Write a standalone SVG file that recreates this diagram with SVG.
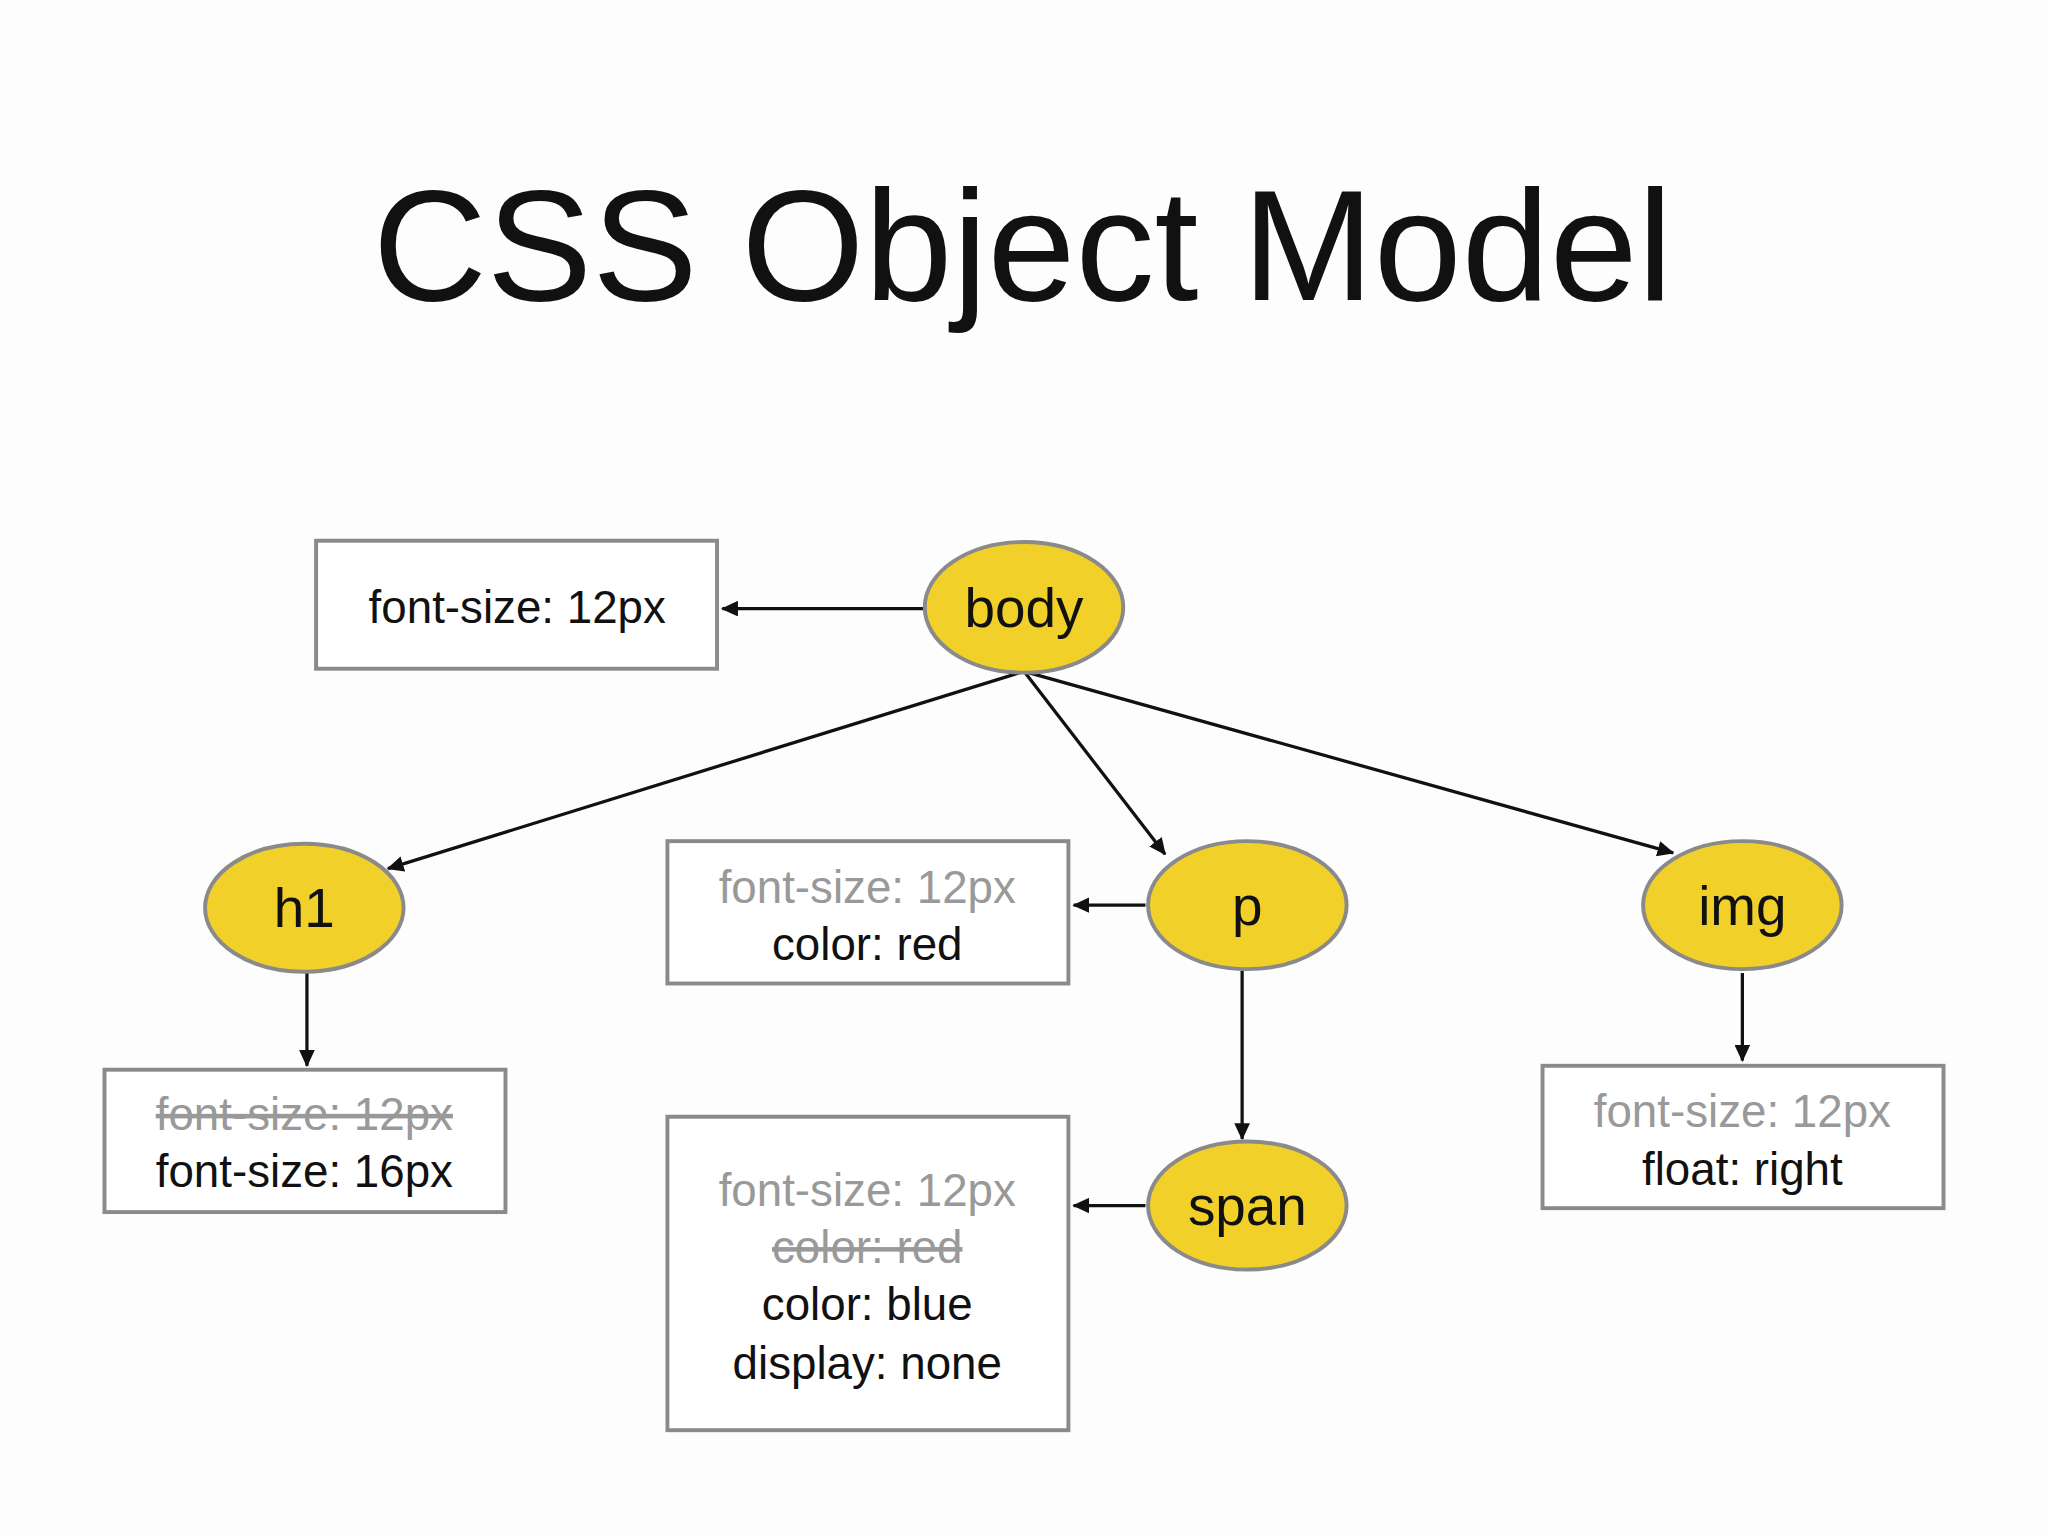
<svg xmlns="http://www.w3.org/2000/svg" width="2048" height="1536" viewBox="0 0 2048 1536">
<style>
.n{fill:#F2D02A;stroke:#8a8a8a;stroke-width:3}
.b{fill:#fff;stroke:#8a8a8a;stroke-width:3}
.t{font-family:"Liberation Sans",Arial,sans-serif;font-size:35px;text-anchor:middle;fill:#111}
.g{fill:#999}
.s{text-decoration:line-through}
.c{stroke:#111;stroke-width:2.5;fill:none;marker-end:url(#a)}
</style>
<defs><marker id="a" markerWidth="13" markerHeight="12" refX="12" refY="6" orient="auto" markerUnits="userSpaceOnUse" viewBox="0 0 13 12"><path d="M0,0 L13,6 L0,12 z" fill="#111"/></marker></defs>
<rect width="2048" height="1536" fill="#fdfdfd"/>
<g transform="scale(1.30612)">
<text x="783" y="230" style="font-family:'Liberation Sans',Arial,sans-serif;font-size:121px;text-anchor:middle;fill:#111">CSS Object Model</text>
<g id="connectors">
<path class="c" d="M707,466 H553"/>
<path class="c" d="M784,514 L297,665"/>
<path class="c" d="M784,514 L892,654"/>
<path class="c" d="M784,514 L1281,653"/>
<path class="c" d="M877,693 H822"/>
<path class="c" d="M877,923 H822"/>
<path class="c" d="M235,745 V816"/>
<path class="c" d="M951,743 V872"/>
<path class="c" d="M1334,745 V812"/>
</g>
<g id="body"><ellipse class="n" cx="784" cy="465" rx="76" ry="50"/><text class="t" x="784" y="480" style="font-size:42px">body</text></g>
<g id="h1"><ellipse class="n" cx="233" cy="695" rx="76" ry="49"/><text class="t" x="233" y="710" style="font-size:42px">h1</text></g>
<g id="p"><ellipse class="n" cx="955" cy="693" rx="76" ry="49"/><text class="t" x="955" y="708" style="font-size:42px">p</text></g>
<g id="img"><ellipse class="n" cx="1334" cy="693" rx="76" ry="49"/><text class="t" x="1334" y="708" style="font-size:42px">img</text></g>
<g id="span"><ellipse class="n" cx="955" cy="923" rx="76" ry="49"/><text class="t" x="955" y="938" style="font-size:42px">span</text></g>
<g id="box-body"><rect class="b" x="242" y="414" width="307" height="98"/><text class="t" x="396" y="477">font-size: 12px</text></g>
<g id="box-p"><rect class="b" x="511" y="644" width="307" height="109"/><text class="t g" x="664" y="691">font-size: 12px</text><text class="t" x="664" y="735">color: red</text></g>
<g id="box-h1"><rect class="b" x="80" y="819" width="307" height="109"/><text class="t g s" x="233" y="865">font-size: 12px</text><text class="t" x="233" y="909">font-size: 16px</text></g>
<g id="box-span"><rect class="b" x="511" y="855" width="307" height="240"/><text class="t g" x="664" y="923">font-size: 12px</text><text class="t g s" x="664" y="967">color: red</text><text class="t" x="664" y="1011">color: blue</text><text class="t" x="664" y="1056">display: none</text></g>
<g id="box-img"><rect class="b" x="1181" y="816" width="307" height="109"/><text class="t g" x="1334" y="863">font-size: 12px</text><text class="t" x="1334" y="907">float: right</text></g>
</g>
</svg>
